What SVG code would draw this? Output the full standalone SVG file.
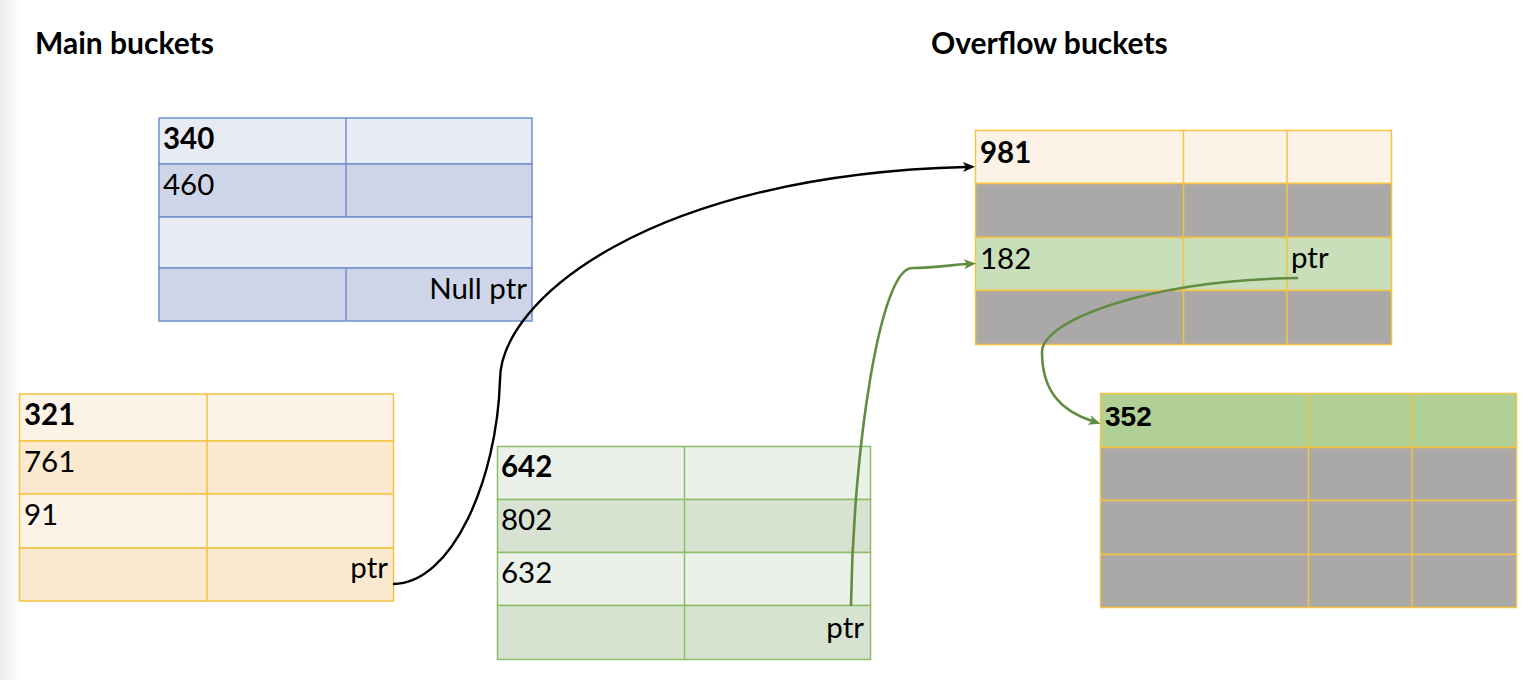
<svg xmlns="http://www.w3.org/2000/svg" width="1536" height="680" viewBox="0 0 1536 680">
<style>
  text { font-family: Lato, "Noto Sans", "Liberation Sans", sans-serif; font-size: 29.5px; fill: #000; }
  .b { font-weight: bold; }
  .title { font-size: 30px; font-weight: bold; }
  .r { text-anchor: end; }
  .blue rect, .blue line { stroke: #7090cc; stroke-width: 1.5; }
  .org rect, .org line { stroke: #f5c242; stroke-width: 1.5; }
  .grn rect, .grn line { stroke: #8dbd6a; stroke-width: 1.5; }
  .bl1 { fill: #e8ebf4; } .bl2 { fill: #cfd5e8; }
  .or1 { fill: #fcf3e6; } .or2 { fill: #fae8cf; }
  .gr1 { fill: #ebf1e8; } .gr2 { fill: #d7e3d0; }
  .gry { fill: #aaa9a8; } .lg { fill: #c9dfb9; } .mg { fill: #b1d095; }
  .edge { fill: none; stroke-width: 2.4; }
  .k { stroke: #000; }
  .g { stroke: #628c42; stroke-width: 2.6; }
</style>
<defs>
  <linearGradient id="lshade" x1="0" y1="0" x2="1" y2="0">
    <stop offset="0" stop-color="#ebebeb"/>
    <stop offset="1" stop-color="#ffffff"/>
  </linearGradient>
  <marker id="ak" markerUnits="userSpaceOnUse" markerWidth="13" markerHeight="11" refX="3" refY="5" orient="auto" overflow="visible">
    <path d="M0,0 L12,5 L0,10 L3,5 z" fill="#000"/>
  </marker>
  <marker id="ag" markerUnits="userSpaceOnUse" markerWidth="13" markerHeight="11" refX="3" refY="5" orient="auto" overflow="visible">
    <path d="M0,0 L12,5 L0,10 L3,5 z" fill="#628c42"/>
  </marker>
</defs>
<rect x="0" y="0" width="1536" height="680" fill="#ffffff"/>
<rect x="0" y="0" width="20" height="680" fill="url(#lshade)"/>

<g id="titles">
  <text class="title" x="35" y="54">Main buckets</text>
  <text class="title" x="931" y="54">Overflow buckets</text>
</g>

<g id="bucket-340" class="blue">
  <rect class="bl1" x="159" y="118" width="373" height="46"/>
  <rect class="bl2" x="159" y="164" width="373" height="53"/>
  <rect class="bl1" x="159" y="217" width="373" height="51"/>
  <rect class="bl2" x="159" y="268" width="373" height="53"/>
  <line x1="346" y1="118" x2="346" y2="217"/>
  <line x1="346" y1="268" x2="346" y2="321"/>
  <text class="b" x="163" y="149">340</text>
  <text x="163" y="195">460</text>
  <text class="r" x="527" y="299">Null ptr</text>
</g>

<g id="bucket-321" class="org">
  <rect class="or1" x="19.5" y="394" width="374" height="47"/>
  <rect class="or2" x="19.5" y="441" width="374" height="53"/>
  <rect class="or1" x="19.5" y="494" width="374" height="54"/>
  <rect class="or2" x="19.5" y="548" width="374" height="53"/>
  <line x1="207" y1="394" x2="207" y2="601"/>
  <text class="b" x="24" y="425">321</text>
  <text x="24" y="472">761</text>
  <text x="24" y="525">91</text>
  <text class="r" x="388" y="578">ptr</text>
</g>

<g id="bucket-642" class="grn">
  <rect class="gr1" x="497.5" y="446.5" width="373" height="53"/>
  <rect class="gr2" x="497.5" y="499.5" width="373" height="53"/>
  <rect class="gr1" x="497.5" y="552.5" width="373" height="53"/>
  <rect class="gr2" x="497.5" y="605.5" width="373" height="54"/>
  <line x1="684.5" y1="446.5" x2="684.5" y2="659.5"/>
  <text class="b" x="501" y="477">642</text>
  <text x="501" y="530">802</text>
  <text x="501" y="583">632</text>
  <text class="r" x="864" y="638">ptr</text>
</g>

<g id="bucket-981" class="org">
  <rect class="or1" x="975.5" y="130.5" width="416" height="53"/>
  <rect class="gry" x="975.5" y="183.5" width="416" height="54"/>
  <rect class="lg" x="975.5" y="237.5" width="416" height="53"/>
  <rect class="gry" x="975.5" y="290.5" width="416" height="54"/>
  <line x1="1183.5" y1="130.5" x2="1183.5" y2="344.5"/>
  <line x1="1287" y1="130.5" x2="1287" y2="344.5"/>
  <text class="b" x="980" y="163">981</text>
  <text x="980" y="269">182</text>
  <text x="1291" y="268">ptr</text>
</g>

<g id="bucket-352" class="org">
  <rect class="mg" x="1100.5" y="393.5" width="416" height="54"/>
  <rect class="gry" x="1100.5" y="447.5" width="416" height="53"/>
  <rect class="gry" x="1100.5" y="500.5" width="416" height="54"/>
  <rect class="gry" x="1100.5" y="554.5" width="416" height="53"/>
  <line x1="1308.5" y1="393.5" x2="1308.5" y2="607.5"/>
  <line x1="1412" y1="393.5" x2="1412" y2="607.5"/>
  <text class="b" x="1105" y="426" style="font-family: 'Liberation Sans', Arial, sans-serif; font-size: 28px;">352</text>
</g>

<g id="connectors">
  <path class="edge k" d="M393,584 C452,584 497,480 500,380 C500,300 650,175 966,167" marker-end="url(#ak)"/>
  <path class="edge g" d="M851,606 C853,450 880,268 912,268 C935,268 950,265 967,264" marker-end="url(#ag)"/>
  <path class="edge g" d="M1298,278 C1150,280 1042,320 1042,352 C1042,392 1062,411 1092,421" marker-end="url(#ag)"/>
</g>
</svg>
